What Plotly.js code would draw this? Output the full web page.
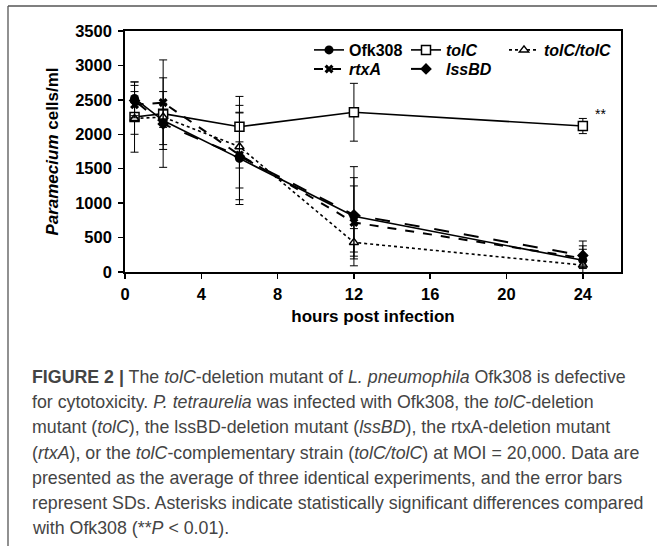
<!DOCTYPE html>
<html>
<head>
<meta charset="utf-8">
<script src="https://cdn.plot.ly/plotly-3.0.1.min.js"></script>
<style>html,body{margin:0;padding:0;background:#fff;}#chart{width:657px;height:546px;}</style>
</head>
<body>
<div id="chart"></div>
<script>
// ---- data ----
const hours = [0.5, 2, 6, 12, 24];
const seriesNames = ["Ofk308", "<i>tolC</i>", "<i>tolC/tolC</i>", "<i>rtxA</i>", "<i>lssBD</i>"];
const ofk308 = [2520, 2200, 1650, 810, 170];
const ofk308SD = [240, 420, 670, 720, 280];
const tolC = [2250, 2300, 2110, 2320, 2120];
const tolCSD = [510, 780, 440, 420, 110];
const tolCtolC = [2230, 2250, 1820, 430, 100];
const tolCtolCSD = [230, 100, 600, 200, 50];
const rtxA = [2430, 2460, 1700, 720, 200];
const rtxASD = [190, 360, 190, 530, 130];
const lssBD = [2490, 2150, 1680, 830, 240];
const lssBDSD = [220, 300, 630, 540, 140];
const xTicks = [0, 4, 8, 12, 16, 20, 24];
const yTicks = [0, 500, 1000, 1500, 2000, 2500, 3000, 3500];
const captionLines = [
  "<b>FIGURE 2 |</b> The <i>tolC</i>-deletion mutant of <i>L. pneumophila</i> Ofk308 is defective",
  "for cytotoxicity. <i>P. tetraurelia</i> was infected with Ofk308, the <i>tolC</i>-deletion",
  "mutant (<i>tolC</i>), the lssBD-deletion mutant (<i>lssBD</i>), the rtxA-deletion mutant",
  "(<i>rtxA</i>), or the <i>tolC</i>-complementary strain (<i>tolC/tolC</i>) at MOI = 20,000. Data are",
  "presented as the average of three identical experiments, and the error bars",
  "represent SDs. Asterisks indicate statistically significant differences compared",
  "with Ofk308 (**<i>P</i> &lt; 0.01)."
];

// ---- geometry helpers (plot area in px) ----
const W = 657, H = 546;
const L = 125, R = 621, T = 31, B = 272;
const pw = R - L, ph = B - T;
const px = X => (X - L) / pw;
const py = Y => (B - Y) / ph;

function errBar(sd) {
  return {type: 'data', array: sd, visible: true, color: '#000', thickness: 1, width: 4};
}
const FONT = 'Liberation Sans, Arial, sans-serif';

const traces = [
  {x: hours, y: ofk308, name: seriesNames[0], mode: 'lines+markers', legend: 'legend',
   line: {color: '#000', width: 1.6, dash: 'solid'},
   marker: {symbol: 'circle', size: 9, color: '#000'}, error_y: errBar(ofk308SD)},
  {x: hours, y: tolC, name: seriesNames[1], mode: 'lines+markers', legend: 'legend2',
   line: {color: '#000', width: 1.6, dash: 'solid'},
   marker: {symbol: 'square', size: 9, color: '#fff', line: {color: '#000', width: 1.5}}, error_y: errBar(tolCSD)},
  {x: hours, y: tolCtolC, name: seriesNames[2], mode: 'lines+markers', legend: 'legend3',
   line: {color: '#000', width: 1.6, dash: 'dot'},
   marker: {symbol: 'triangle-up', size: 8, color: '#fff', line: {color: '#000', width: 1.5}}, error_y: errBar(tolCtolCSD)},
  {x: hours, y: rtxA, name: seriesNames[3], mode: 'lines+markers', legend: 'legend4',
   line: {color: '#000', width: 2, dash: 'dash'},
   marker: {symbol: 'x', size: 8, color: '#000'}, error_y: errBar(rtxASD)},
  {x: hours, y: lssBD, name: seriesNames[4], mode: 'lines+markers', legend: 'legend5',
   line: {color: '#000', width: 2, dash: 'longdash'},
   marker: {symbol: 'diamond', size: 9, color: '#000'}, error_y: errBar(lssBDSD)}
];

const annotations = captionLines.map((t, i) => ({
  text: t, xref: 'paper', yref: 'paper', x: px(30), y: py(377 + i * 25.2),
  xanchor: 'left', yanchor: 'middle', showarrow: false, align: 'left',
  font: {family: FONT, size: 17.8, color: '#444'}
}));
annotations.push({
  text: '**', xref: 'x', yref: 'y', x: 24.55, y: 2300, xanchor: 'left', yanchor: 'middle',
  showarrow: false, font: {family: FONT, size: 14, color: '#000'}
});

function leg(xp, yp) {
  return {
    orientation: 'h', xanchor: 'left', yanchor: 'middle', bgcolor: 'rgba(0,0,0,0)',
    font: {family: FONT, size: 16, color: '#000', weight: 'bold'},
    itemwidth: 30, x: px(xp), y: py(yp)
  };
}

const layout = {
  width: W, height: H,
  margin: {l: L, r: W - R, t: T, b: H - B, pad: 0},
  paper_bgcolor: '#fff', plot_bgcolor: '#fff',
  showlegend: true,
  font: {family: FONT, color: '#000'},
  xaxis: {
    range: [0, 26], tickvals: xTicks, ticktext: xTicks.map(String),
    showgrid: false, zeroline: false, showline: true, linecolor: '#000', linewidth: 1.8, mirror: true,
    ticks: 'outside', ticklen: 5, tickwidth: 1.5, tickcolor: '#000', ticklabelstandoff: 1,
    tickfont: {family: FONT, size: 16.5, color: '#000', weight: 'bold'},
    title: {text: '<b>hours post infection</b>', standoff: 8, font: {family: FONT, size: 17, color: '#000'}}
  },
  yaxis: {
    range: [0, 3500], tickvals: yTicks, ticktext: yTicks.map(String),
    showgrid: false, zeroline: false, showline: true, linecolor: '#000', linewidth: 1.8, mirror: true,
    ticks: 'outside', ticklen: 5, tickwidth: 1.5, tickcolor: '#000', ticklabelstandoff: 3,
    tickfont: {family: FONT, size: 16.5, color: '#000', weight: 'bold'},
    title: {text: '<b><i>Paramecium</i> cells/ml</b>', standoff: 12, font: {family: FONT, size: 17, color: '#000'}}
  },
  legend: leg(309, 50),
  legend2: leg(406, 50),
  legend3: leg(504, 50),
  legend4: leg(309, 69),
  legend5: leg(406, 69),
  shapes: [
    {type: 'line', xref: 'paper', yref: 'paper', x0: px(8), x1: px(660), y0: py(6), y1: py(6),
     line: {color: '#555', width: 1.3}},
    {type: 'line', xref: 'paper', yref: 'paper', x0: px(8), x1: px(8), y0: py(6), y1: py(550),
     line: {color: '#555', width: 1.3}}
  ],
  annotations: annotations
};

Plotly.newPlot('chart', traces, layout, {displayModeBar: false, staticPlot: true});
</script>
</body>
</html>
